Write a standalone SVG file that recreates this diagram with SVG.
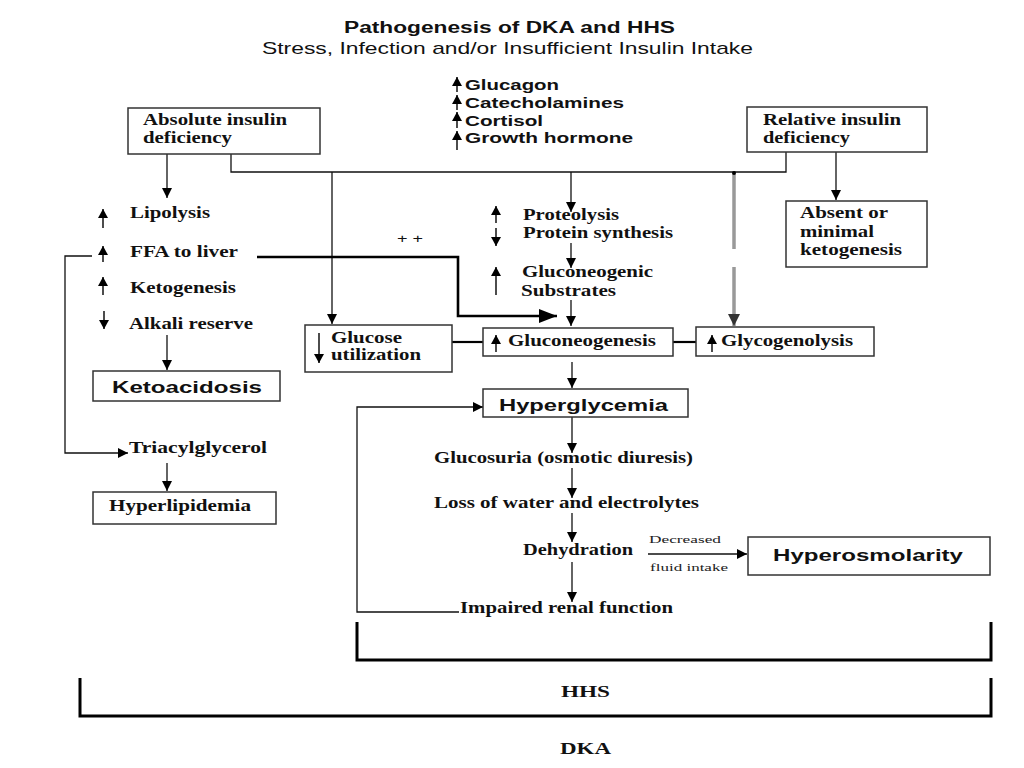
<svg xmlns="http://www.w3.org/2000/svg" width="1024" height="768" viewBox="0 0 1024 768">
<defs>
<style>
.bg{fill:#fff}
.box{fill:#fff;stroke:#333;stroke-width:1.5}
.ln{fill:none;stroke:#111;stroke-width:1.3}
.thick{fill:none;stroke:#000;stroke-width:2.6}
.gray{fill:none;stroke:#999;stroke-width:3.5}
.brk{fill:none;stroke:#000;stroke-width:3}
.ind{fill:none;stroke:#000;stroke-width:1.4}
.ts{font-family:"Liberation Serif","Times New Roman",serif;font-weight:bold;font-size:16px;fill:#111}
.tr{font-family:"Liberation Serif","Times New Roman",serif;font-size:11px;fill:#222}
.sb{font-family:"Liberation Sans",Arial,sans-serif;font-weight:bold;fill:#111}
.sr{font-family:"Liberation Sans",Arial,sans-serif;fill:#111}
</style>
<marker id="ah" markerUnits="userSpaceOnUse" markerWidth="10" markerHeight="10" refX="10" refY="5" orient="auto"><path d="M0,0 L10,5 L0,10 z" fill="#000"/></marker>
<marker id="ahg" markerUnits="userSpaceOnUse" markerWidth="12" markerHeight="12" refX="12" refY="6" orient="auto"><path d="M0,0 L12,6 L0,12 z" fill="#333"/></marker>
<marker id="ahb" markerUnits="userSpaceOnUse" markerWidth="18" markerHeight="14" refX="18" refY="7" orient="auto"><path d="M0,0 L18,7 L0,14 z" fill="#000"/></marker>
<marker id="ahs" markerUnits="userSpaceOnUse" markerWidth="9" markerHeight="10" refX="9" refY="5" orient="auto"><path d="M0,0 L9,5 L0,10 z" fill="#000"/></marker>
</defs>
<rect class="bg" x="0" y="0" width="1024" height="768"/>

<g id="title">
<text class="sb" x="344" y="33" font-size="16" textLength="331" lengthAdjust="spacingAndGlyphs">Pathogenesis of DKA and HHS</text>
<text class="sr" x="262" y="54" font-size="17" textLength="491" lengthAdjust="spacingAndGlyphs">Stress, Infection and/or Insufficient Insulin Intake</text>
</g>

<g id="connectors">
<path class="ln" d="M167,154 V198" marker-end="url(#ah)"/>
<path class="ln" d="M231,154 V172 H786 V152"/>
<path class="ln" d="M332,172 V324" marker-end="url(#ah)"/>
<path class="ln" d="M571,172 V212" marker-end="url(#ah)"/>
<path class="ln" d="M571,243 V268" marker-end="url(#ah)"/>
<path class="ln" d="M571,300 V326" marker-end="url(#ah)"/>
<path class="gray" d="M734,174 V249"/>
<path class="gray" d="M734,267 V326" marker-end="url(#ahg)"/>
<circle cx="734" cy="173" r="2" fill="#000"/>
<path class="ln" d="M836,152 V200" marker-end="url(#ah)"/>
<path class="thick" d="M257,257 H458 V316 H557" marker-end="url(#ahb)"/>
<path class="ln" d="M92,256 H65 V453 H128" marker-end="url(#ah)"/>
<path class="ln" d="M167,335 V370" marker-end="url(#ah)"/>
<path class="ln" d="M167,463 V491" marker-end="url(#ah)"/>
<path class="thick" d="M452,342 H483" style="stroke-width:2.2"/>
<path class="thick" d="M673,342 H696" style="stroke-width:2.2"/>
<path class="ln" d="M572,362 V388" marker-end="url(#ah)"/>
<path class="ln" d="M572,417 V453" marker-end="url(#ah)"/>
<path class="ln" d="M572,468 V498" marker-end="url(#ah)"/>
<path class="ln" d="M572,513 V542" marker-end="url(#ah)"/>
<path class="ln" d="M572,562 V602" marker-end="url(#ah)"/>
<path class="ln" d="M459,612 H357 V407 H483" marker-end="url(#ah)"/>
<path class="ln" d="M648,554 H747" marker-end="url(#ah)"/>
</g>

<g id="hormones">
<path class="ind" d="M457,92 V77" marker-end="url(#ahs)"/>
<path class="ind" d="M457,110 V95" marker-end="url(#ahs)"/>
<path class="ind" d="M457,128 V112" marker-end="url(#ahs)"/>
<path class="ind" d="M457,150 V131" marker-end="url(#ahs)"/>
<text class="sb" x="465" y="90" font-size="15" textLength="94" lengthAdjust="spacingAndGlyphs">Glucagon</text>
<text class="sb" x="465" y="108" font-size="15" textLength="159" lengthAdjust="spacingAndGlyphs">Catecholamines</text>
<text class="sb" x="465" y="126" font-size="15" textLength="78" lengthAdjust="spacingAndGlyphs">Cortisol</text>
<text class="sb" x="465" y="143" font-size="15" textLength="168" lengthAdjust="spacingAndGlyphs">Growth hormone</text>
</g>

<g id="absolute">
<rect class="box" x="128" y="108" width="192" height="46"/>
<text class="ts" x="143" y="125" textLength="144" lengthAdjust="spacingAndGlyphs">Absolute insulin</text>
<text class="ts" x="143" y="143" textLength="89" lengthAdjust="spacingAndGlyphs">deficiency</text>
</g>

<g id="relative">
<rect class="box" x="747" y="107" width="180" height="45"/>
<text class="ts" x="763" y="125" textLength="138" lengthAdjust="spacingAndGlyphs">Relative insulin</text>
<text class="ts" x="763" y="143" textLength="87" lengthAdjust="spacingAndGlyphs">deficiency</text>
</g>

<g id="absent">
<rect class="box" x="786" y="201" width="141" height="66"/>
<text class="ts" x="800" y="218" textLength="88" lengthAdjust="spacingAndGlyphs">Absent or</text>
<text class="ts" x="800" y="237" textLength="74" lengthAdjust="spacingAndGlyphs">minimal</text>
<text class="ts" x="800" y="255" textLength="102" lengthAdjust="spacingAndGlyphs">ketogenesis</text>
</g>

<g id="lipolysis">
<path class="ind" d="M103,228 V209" marker-end="url(#ahs)"/>
<text class="ts" x="130" y="218" textLength="80" lengthAdjust="spacingAndGlyphs">Lipolysis</text>
</g>
<g id="ffa">
<path class="ind" d="M103,262 V246" marker-end="url(#ahs)"/>
<text class="ts" x="130" y="257" textLength="108" lengthAdjust="spacingAndGlyphs">FFA to liver</text>
</g>
<g id="ketogenesis">
<path class="ind" d="M103,295 V277" marker-end="url(#ahs)"/>
<text class="ts" x="130" y="293" textLength="106" lengthAdjust="spacingAndGlyphs">Ketogenesis</text>
</g>
<g id="alkali">
<path class="ind" d="M104,311 V329" marker-end="url(#ahs)"/>
<text class="ts" x="129" y="329" textLength="124" lengthAdjust="spacingAndGlyphs">Alkali reserve</text>
</g>
<g id="ketoacidosis">
<rect class="box" x="93" y="371" width="187" height="30"/>
<text class="sb" x="112" y="393" font-size="16" textLength="150" lengthAdjust="spacingAndGlyphs">Ketoacidosis</text>
</g>
<g id="triacylglycerol">
<text class="ts" x="129" y="453" textLength="138" lengthAdjust="spacingAndGlyphs">Triacylglycerol</text>
</g>
<g id="hyperlipidemia">
<rect class="box" x="93" y="492" width="183" height="32"/>
<text class="ts" x="109" y="511" textLength="142" lengthAdjust="spacingAndGlyphs">Hyperlipidemia</text>
</g>

<g id="plus">
<text class="sr" x="397" y="243" font-size="12" textLength="26" lengthAdjust="spacingAndGlyphs">+ +</text>
</g>

<g id="proteolysis">
<path class="ind" d="M496,223 V206" marker-end="url(#ahs)"/>
<path class="ind" d="M496,228 V246" marker-end="url(#ahs)"/>
<text class="ts" x="523" y="220" textLength="96" lengthAdjust="spacingAndGlyphs">Proteolysis</text>
<text class="ts" x="523" y="238" textLength="150" lengthAdjust="spacingAndGlyphs">Protein synthesis</text>
</g>
<g id="substrates">
<path class="ind" d="M496,295 V267" marker-end="url(#ahs)"/>
<text class="ts" x="522" y="277" textLength="131" lengthAdjust="spacingAndGlyphs">Gluconeogenic</text>
<text class="ts" x="521" y="296" textLength="95" lengthAdjust="spacingAndGlyphs">Substrates</text>
</g>

<g id="glucose-utilization">
<rect class="box" x="305" y="325" width="147" height="47"/>
<path class="ind" d="M319,333 V363" marker-end="url(#ahs)"/>
<text class="ts" x="331" y="343" textLength="71" lengthAdjust="spacingAndGlyphs">Glucose</text>
<text class="ts" x="331" y="360" textLength="90" lengthAdjust="spacingAndGlyphs">utilization</text>
</g>
<g id="gluconeogenesis">
<rect class="box" x="483" y="328" width="190" height="28"/>
<path class="ind" d="M496,352 V335" marker-end="url(#ahs)"/>
<text class="ts" x="508" y="346" textLength="148" lengthAdjust="spacingAndGlyphs">Gluconeogenesis</text>
</g>
<g id="glycogenolysis">
<rect class="box" x="696" y="327" width="178" height="29"/>
<path class="ind" d="M712,352 V335" marker-end="url(#ahs)"/>
<text class="ts" x="721" y="346" textLength="132" lengthAdjust="spacingAndGlyphs">Glycogenolysis</text>
</g>

<g id="hyperglycemia">
<rect class="box" x="483" y="389" width="205" height="28"/>
<text class="sb" x="499" y="411" font-size="16" textLength="169" lengthAdjust="spacingAndGlyphs">Hyperglycemia</text>
</g>
<g id="glucosuria">
<text class="ts" x="434" y="463" textLength="259" lengthAdjust="spacingAndGlyphs">Glucosuria (osmotic diuresis)</text>
</g>
<g id="loss">
<text class="ts" x="434" y="508" textLength="265" lengthAdjust="spacingAndGlyphs">Loss of water and electrolytes</text>
</g>
<g id="dehydration">
<text class="ts" x="523" y="555" textLength="110" lengthAdjust="spacingAndGlyphs">Dehydration</text>
</g>
<g id="impaired">
<text class="ts" x="460" y="613" textLength="213" lengthAdjust="spacingAndGlyphs">Impaired renal function</text>
</g>
<g id="fluid-label">
<text class="tr" x="649" y="543" textLength="72" lengthAdjust="spacingAndGlyphs">Decreased</text>
<text class="tr" x="650" y="571" textLength="78" lengthAdjust="spacingAndGlyphs">fluid intake</text>
</g>
<g id="hyperosmolarity">
<rect class="box" x="748" y="537" width="242" height="38"/>
<text class="sb" x="773" y="561" font-size="17" textLength="190" lengthAdjust="spacingAndGlyphs">Hyperosmolarity</text>
</g>

<g id="hhs">
<path class="brk" d="M357,622 V660 H991 V622"/>
<text class="ts" x="561" y="697" font-size="17" textLength="49" lengthAdjust="spacingAndGlyphs">HHS</text>
</g>
<g id="dka">
<path class="brk" d="M80,678 V716 H991 V678"/>
<text class="ts" x="560" y="754" font-size="17" textLength="51" lengthAdjust="spacingAndGlyphs">DKA</text>
</g>
</svg>
